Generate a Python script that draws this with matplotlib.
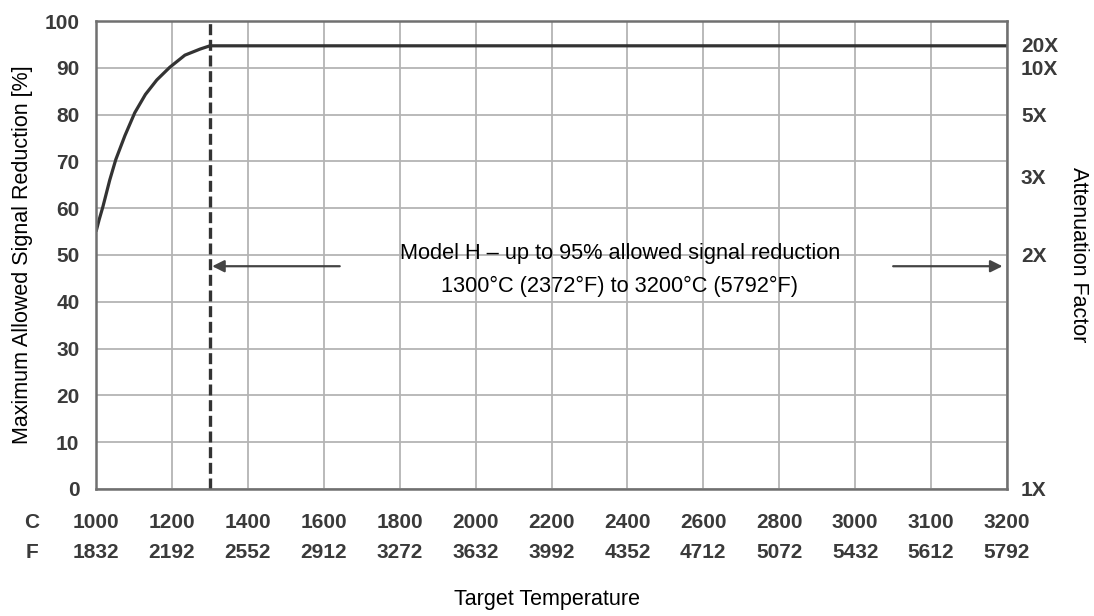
import matplotlib.pyplot as plt
import matplotlib.transforms as mtransforms
import numpy as np

c_ticks = [1000, 1200, 1400, 1600, 1800, 2000, 2200, 2400, 2600, 2800, 3000, 3100, 3200]
f_ticks = [1832, 2192, 2552, 2912, 3272, 3632, 3992, 4352, 4712, 5072, 5432, 5612, 5792]

# signal reduction curve, temperature in C
curve_c = [1000, 1008, 1018, 1036, 1052, 1076, 1102, 1130, 1160, 1194, 1234, 1274, 1300, 3200]
curve_val = [55, 57.5, 60.3, 66, 70.4, 75.5, 80.4, 84.3, 87.4, 90.1, 92.7, 94.0, 94.7, 94.7]
limit_c = 1300

att_factors = [1, 2, 3, 5, 10, 20]
att_labels = ['1X', '2X', '3X', '5X', '10X', '20X']

sans = ['Liberation Sans', 'DejaVu Sans']
tcol = '#3a3a3a'

pos = np.arange(len(c_ticks))
def cpos(c):
    return np.interp(c, c_ticks, pos)

fig = plt.figure(figsize=(10.94, 6.16), dpi=100)
ax = fig.add_axes([0.0878, 0.2062, 0.8327, 0.7597])
ax.set_xlim(0, len(c_ticks) - 1)
ax.set_ylim(0, 100)

ax.set_xticks(pos)
ax.set_xticklabels([])
ax.set_yticks(range(0, 101, 10))
ax.set_yticklabels([str(v) for v in range(0, 101, 10)],
                   family=sans, weight='bold', fontsize=15, color=tcol)
ax.tick_params(length=0, pad=12)
ax.grid(True, color='#b4b4b4', lw=1.3)
for s in ax.spines.values():
    s.set_color('#707070')
    s.set_linewidth(1.8)

# two rows of temperature labels
tr = mtransforms.blended_transform_factory(ax.transData, ax.transAxes)
for p, c, f in zip(pos, c_ticks, f_ticks):
    ax.text(p, -0.072, str(c), transform=tr, family=sans, weight='bold', fontsize=15,
            color=tcol, ha='center', va='center')
    ax.text(p, -0.135, str(f), transform=tr, family=sans, weight='bold', fontsize=15,
            color=tcol, ha='center', va='center')
ax.text(-0.0702, -0.072, 'C', transform=ax.transAxes, family=sans, weight='bold',
        fontsize=15, color=tcol, ha='center', va='center')
ax.text(-0.0702, -0.135, 'F', transform=ax.transAxes, family=sans, weight='bold',
        fontsize=15, color=tcol, ha='center', va='center')

ax.plot(cpos(curve_c), curve_val, color='#333333', lw=2.3, solid_capstyle='butt')
ax.axvline(cpos(limit_c), color='#333333', lw=2.4, dashes=(3.3, 1.4))

ax2 = ax.twinx()
ax2.set_ylim(0, 100)
ax2.set_yticks([100 * (1 - 1 / f) for f in att_factors])
ax2.set_yticklabels(att_labels, family=sans, weight='bold', fontsize=15, color=tcol)
ax2.tick_params(length=0, pad=10)
for s in ax2.spines.values():
    s.set_visible(False)

ax.set_ylabel('Maximum Allowed Signal Reduction [%]', family=sans, fontsize=15.5, labelpad=8)
ax2.set_ylabel('Attenuation Factor', family=sans, fontsize=15.5, rotation=270, labelpad=22)
fig.text(0.5, 0.026, 'Target Temperature', family=sans, fontsize=15.5, ha='center', va='center')

ax.text(cpos(2380), 50.4, 'Model H \u2013 up to 95% allowed signal reduction',
        family=sans, fontsize=15.7, ha='center', va='center')
ax.text(cpos(2380), 43.2, '1300\u00b0C (2372\u00b0F) to 3200\u00b0C (5792\u00b0F)',
        family=sans, fontsize=15.7, ha='center', va='center')
ax.annotate('', xy=(cpos(limit_c) + 0.03, 47.6), xytext=(cpos(1642), 47.6),
            arrowprops=dict(arrowstyle='-|>', color='#444444', lw=1.6, mutation_scale=18,
                            shrinkA=0, shrinkB=0))
ax.annotate('', xy=(cpos(3194), 47.6), xytext=(cpos(3050), 47.6),
            arrowprops=dict(arrowstyle='-|>', color='#444444', lw=1.6, mutation_scale=18,
                            shrinkA=0, shrinkB=0))

fig.savefig('out.png', dpi=100)
